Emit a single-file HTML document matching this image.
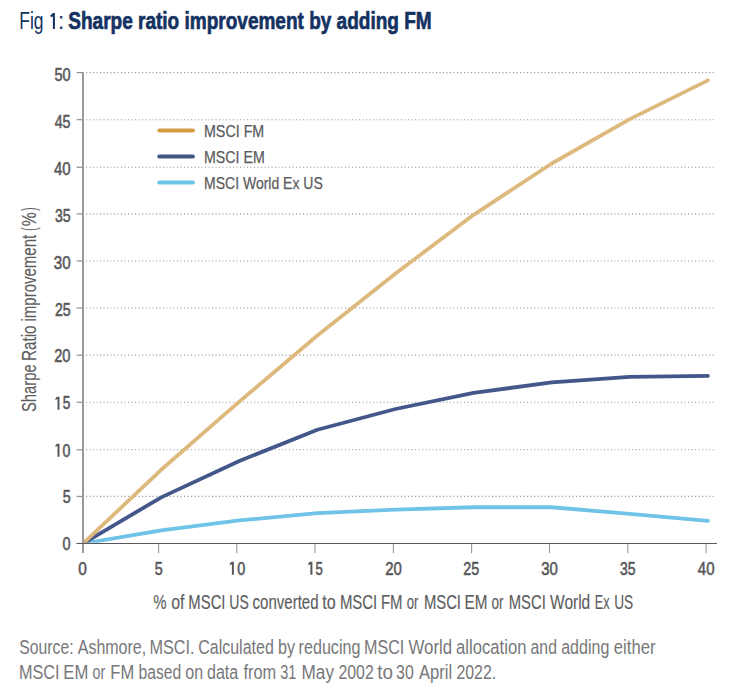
<!DOCTYPE html>
<html><head><meta charset="utf-8"><style>
html,body{margin:0;padding:0;background:#fff;overflow:hidden;}
svg{display:block;}
text{font-family:"Liberation Sans",sans-serif;}
</style></head><body>
<svg width="754" height="694" viewBox="0 0 754 694">
<defs><clipPath id="pc"><rect x="84.0" y="0" width="700" height="542.8"/></clipPath></defs>
<line class="gl" x1="86.0" y1="496.41" x2="716.0" y2="496.41" stroke="#9a9a9a" stroke-width="1.1" stroke-dasharray="1.1 2.4"/>
<line class="gl" x1="86.0" y1="449.82" x2="716.0" y2="449.82" stroke="#9a9a9a" stroke-width="1.1" stroke-dasharray="1.1 2.4"/>
<line class="gl" x1="86.0" y1="402.23" x2="716.0" y2="402.23" stroke="#9a9a9a" stroke-width="1.1" stroke-dasharray="1.1 2.4"/>
<line class="gl" x1="86.0" y1="355.14" x2="716.0" y2="355.14" stroke="#9a9a9a" stroke-width="1.1" stroke-dasharray="1.1 2.4"/>
<line class="gl" x1="86.0" y1="308.05" x2="716.0" y2="308.05" stroke="#9a9a9a" stroke-width="1.1" stroke-dasharray="1.1 2.4"/>
<line class="gl" x1="86.0" y1="260.96" x2="716.0" y2="260.96" stroke="#9a9a9a" stroke-width="1.1" stroke-dasharray="1.1 2.4"/>
<line class="gl" x1="86.0" y1="213.87" x2="716.0" y2="213.87" stroke="#9a9a9a" stroke-width="1.1" stroke-dasharray="1.1 2.4"/>
<line class="gl" x1="86.0" y1="167.28" x2="716.0" y2="167.28" stroke="#9a9a9a" stroke-width="1.1" stroke-dasharray="1.1 2.4"/>
<line class="gl" x1="86.0" y1="119.69" x2="716.0" y2="119.69" stroke="#9a9a9a" stroke-width="1.1" stroke-dasharray="1.1 2.4"/>
<line class="gl" x1="86.0" y1="72.60" x2="716.0" y2="72.60" stroke="#9a9a9a" stroke-width="1.1" stroke-dasharray="1.1 2.4"/>
<line x1="76.7" y1="543.50" x2="83" y2="543.50" stroke="#8f8f8f" stroke-width="1.2"/>
<line x1="76.7" y1="496.41" x2="83" y2="496.41" stroke="#8f8f8f" stroke-width="1.2"/>
<line x1="76.7" y1="449.82" x2="83" y2="449.82" stroke="#8f8f8f" stroke-width="1.2"/>
<line x1="76.7" y1="402.23" x2="83" y2="402.23" stroke="#8f8f8f" stroke-width="1.2"/>
<line x1="76.7" y1="355.14" x2="83" y2="355.14" stroke="#8f8f8f" stroke-width="1.2"/>
<line x1="76.7" y1="308.05" x2="83" y2="308.05" stroke="#8f8f8f" stroke-width="1.2"/>
<line x1="76.7" y1="260.96" x2="83" y2="260.96" stroke="#8f8f8f" stroke-width="1.2"/>
<line x1="76.7" y1="213.87" x2="83" y2="213.87" stroke="#8f8f8f" stroke-width="1.2"/>
<line x1="76.7" y1="167.28" x2="83" y2="167.28" stroke="#8f8f8f" stroke-width="1.2"/>
<line x1="76.7" y1="119.69" x2="83" y2="119.69" stroke="#8f8f8f" stroke-width="1.2"/>
<line x1="76.7" y1="72.60" x2="83" y2="72.60" stroke="#8f8f8f" stroke-width="1.2"/>
<line x1="158.6" y1="543.5" x2="158.6" y2="553.2" stroke="#9a9a9a" stroke-width="1.1"/>
<line x1="236.7" y1="543.5" x2="236.7" y2="553.2" stroke="#9a9a9a" stroke-width="1.1"/>
<line x1="315.0" y1="543.5" x2="315.0" y2="553.2" stroke="#9a9a9a" stroke-width="1.1"/>
<line x1="393.4" y1="543.5" x2="393.4" y2="553.2" stroke="#9a9a9a" stroke-width="1.1"/>
<line x1="471.6" y1="543.5" x2="471.6" y2="553.2" stroke="#9a9a9a" stroke-width="1.1"/>
<line x1="549.5" y1="543.5" x2="549.5" y2="553.2" stroke="#9a9a9a" stroke-width="1.1"/>
<line x1="627.8" y1="543.5" x2="627.8" y2="553.2" stroke="#9a9a9a" stroke-width="1.1"/>
<line x1="706.1" y1="543.5" x2="706.1" y2="553.2" stroke="#9a9a9a" stroke-width="1.1"/>
<line x1="83.0" y1="72.0" x2="83.0" y2="553.0" stroke="#8e8e8e" stroke-width="1.8"/>
<g clip-path="url(#pc)" fill="none" stroke-linejoin="round" stroke-linecap="round">
<polyline points="83.10,543.50 161.20,530.31 239.30,520.43 317.40,513.17 395.50,509.60 473.60,507.24 551.70,507.24 629.80,513.83 707.90,520.90" stroke="#6ec3e6" stroke-width="3.8"/>
<polyline points="83.10,543.50 161.20,497.35 239.30,461.00 317.40,429.73 395.50,409.01 473.60,392.81 551.70,382.45 629.80,376.80 707.90,375.86" stroke="#44578a" stroke-width="3.8"/>
<polyline points="83.10,543.50 161.20,469.76 239.30,401.66 317.40,335.55 395.50,273.58 473.60,214.81 551.70,163.48 629.80,119.12 707.90,80.42" stroke="#deb97d" stroke-width="3.8"/>
</g>
<line x1="76.5" y1="543.5" x2="717.0" y2="543.5" stroke="#59595b" stroke-width="1.2"/>
<line x1="159.2" y1="130.5" x2="193.0" y2="130.5" stroke="#d39d48" stroke-width="3.8" stroke-linecap="round"/>
<line x1="159.2" y1="156.5" x2="193.0" y2="156.5" stroke="#435683" stroke-width="3.8" stroke-linecap="round"/>
<line x1="159.2" y1="182.5" x2="193.0" y2="182.5" stroke="#6cc4e8" stroke-width="3.8" stroke-linecap="round"/>
<path d="M52.9 13.0 H54.9 V28.95 H52.9 Z M52.9 13.0 L54.9 13.0 L54.9 14.9 L51.3 17.3 L50.1 15.8 Z" fill="#143261"/>
<path d="M233.90 561.80 V574.80 H231.90 V564.20 L229.80 565.20 V563.60 L231.40 561.80 Z" fill="#58585b"/>
<path d="M312.40 561.80 V574.80 H310.40 V564.20 L308.30 565.20 V563.60 L309.90 561.80 Z" fill="#58585b"/>
<path d="M59.50 443.70 V456.70 H57.50 V446.10 L55.40 447.10 V445.50 L57.00 443.70 Z" fill="#58585b"/>
<path d="M59.50 396.70 V409.70 H57.50 V399.10 L55.40 400.10 V398.50 L57.00 396.70 Z" fill="#58585b"/>
<text id="tfigA" font-size="24.06" fill="#143261" textLength="24.27" lengthAdjust="spacingAndGlyphs" x="19.29" y="28.90">Fig</text>
<text id="tfigC" font-size="24.06" fill="#143261" textLength="6.20" lengthAdjust="spacingAndGlyphs" x="57.97" y="28.90">:</text>
<text id="tbold" font-size="24.20" fill="#143261" font-weight="bold" stroke="#143261" stroke-width="0.7" textLength="363.36" lengthAdjust="spacingAndGlyphs" x="68.30" y="28.90">Sharpe ratio improvement by adding FM</text>
<text id="lg1" font-size="16.96" fill="#5a5a5d" stroke="#5a5a5d" stroke-width="0.25" textLength="60.30" lengthAdjust="spacingAndGlyphs" x="203.96" y="137.00">MSCI FM</text>
<text id="lg2" font-size="16.96" fill="#5a5a5d" stroke="#5a5a5d" stroke-width="0.25" textLength="60.80" lengthAdjust="spacingAndGlyphs" x="203.99" y="163.00">MSCI EM</text>
<text id="lg3" font-size="16.96" fill="#5a5a5d" stroke="#5a5a5d" stroke-width="0.25" textLength="118.82" lengthAdjust="spacingAndGlyphs" x="204.01" y="189.00">MSCI World Ex US</text>
<text id="xt0" font-size="19.42" fill="#5d5d60" stroke="#5d5d60" stroke-width="0.15" textLength="13.28" lengthAdjust="spacingAndGlyphs" x="153.36" y="608.80">%</text>
<text id="xt1" font-size="19.42" fill="#5d5d60" stroke="#5d5d60" stroke-width="0.15" textLength="13.21" lengthAdjust="spacingAndGlyphs" x="171.31" y="608.80">of</text>
<text id="xt2" font-size="19.42" fill="#5d5d60" stroke="#5d5d60" stroke-width="0.15" textLength="37.12" lengthAdjust="spacingAndGlyphs" x="188.36" y="608.80">MSCI</text>
<text id="xt3" font-size="19.42" fill="#5d5d60" stroke="#5d5d60" stroke-width="0.15" textLength="19.51" lengthAdjust="spacingAndGlyphs" x="229.28" y="608.80">US</text>
<text id="xt4" font-size="19.42" fill="#5d5d60" stroke="#5d5d60" stroke-width="0.15" textLength="66.06" lengthAdjust="spacingAndGlyphs" x="252.54" y="608.80">converted</text>
<text id="xt5" font-size="19.42" fill="#5d5d60" stroke="#5d5d60" stroke-width="0.15" textLength="13.39" lengthAdjust="spacingAndGlyphs" x="322.37" y="608.80">to</text>
<text id="xt6" font-size="19.42" fill="#5d5d60" stroke="#5d5d60" stroke-width="0.15" textLength="37.40" lengthAdjust="spacingAndGlyphs" x="339.89" y="608.80">MSCI</text>
<text id="xt7" font-size="19.42" fill="#5d5d60" stroke="#5d5d60" stroke-width="0.15" textLength="21.58" lengthAdjust="spacingAndGlyphs" x="380.93" y="608.80">FM</text>
<text id="xt8" font-size="19.42" fill="#5d5d60" stroke="#5d5d60" stroke-width="0.15" textLength="11.61" lengthAdjust="spacingAndGlyphs" x="406.66" y="608.80">or</text>
<text id="xt9" font-size="19.42" fill="#5d5d60" stroke="#5d5d60" stroke-width="0.15" textLength="37.05" lengthAdjust="spacingAndGlyphs" x="423.92" y="608.80">MSCI</text>
<text id="xt10" font-size="19.42" fill="#5d5d60" stroke="#5d5d60" stroke-width="0.15" textLength="22.89" lengthAdjust="spacingAndGlyphs" x="464.49" y="608.80">EM</text>
<text id="xt11" font-size="19.42" fill="#5d5d60" stroke="#5d5d60" stroke-width="0.15" textLength="12.03" lengthAdjust="spacingAndGlyphs" x="491.41" y="608.80">or</text>
<text id="xt12" font-size="19.42" fill="#5d5d60" stroke="#5d5d60" stroke-width="0.15" textLength="37.02" lengthAdjust="spacingAndGlyphs" x="508.78" y="608.80">MSCI</text>
<text id="xt13" font-size="19.42" fill="#5d5d60" stroke="#5d5d60" stroke-width="0.15" textLength="40.09" lengthAdjust="spacingAndGlyphs" x="550.11" y="608.80">World</text>
<text id="xt14" font-size="19.42" fill="#5d5d60" stroke="#5d5d60" stroke-width="0.15" textLength="14.73" lengthAdjust="spacingAndGlyphs" x="594.75" y="608.80">Ex</text>
<text id="xt15" font-size="19.42" fill="#5d5d60" stroke="#5d5d60" stroke-width="0.15" textLength="19.00" lengthAdjust="spacingAndGlyphs" x="614.14" y="608.80">US</text>
<text id="f1_0" font-size="20.72" fill="#77777a" textLength="54.19" lengthAdjust="spacingAndGlyphs" x="19.34" y="654.00">Source:</text>
<text id="f1_1" font-size="20.72" fill="#77777a" textLength="68.40" lengthAdjust="spacingAndGlyphs" x="77.74" y="654.00">Ashmore,</text>
<text id="f1_2" font-size="20.72" fill="#77777a" textLength="45.06" lengthAdjust="spacingAndGlyphs" x="149.51" y="654.00">MSCI.</text>
<text id="f1_3" font-size="20.72" fill="#77777a" textLength="75.52" lengthAdjust="spacingAndGlyphs" x="198.26" y="654.00">Calculated</text>
<text id="f1_4" font-size="20.72" fill="#77777a" textLength="17.11" lengthAdjust="spacingAndGlyphs" x="277.91" y="654.00">by</text>
<text id="f1_5" font-size="20.72" fill="#77777a" textLength="61.79" lengthAdjust="spacingAndGlyphs" x="298.62" y="654.00">reducing</text>
<text id="f1_6" font-size="20.72" fill="#77777a" textLength="40.21" lengthAdjust="spacingAndGlyphs" x="364.04" y="654.00">MSCI</text>
<text id="f1_7" font-size="20.72" fill="#77777a" textLength="43.54" lengthAdjust="spacingAndGlyphs" x="408.59" y="654.00">World</text>
<text id="f1_8" font-size="20.72" fill="#77777a" textLength="70.38" lengthAdjust="spacingAndGlyphs" x="456.06" y="654.00">allocation</text>
<text id="f1_9" font-size="20.72" fill="#77777a" textLength="26.28" lengthAdjust="spacingAndGlyphs" x="530.62" y="654.00">and</text>
<text id="f1_10" font-size="20.72" fill="#77777a" textLength="48.09" lengthAdjust="spacingAndGlyphs" x="561.21" y="654.00">adding</text>
<text id="f1_11" font-size="20.72" fill="#77777a" textLength="41.73" lengthAdjust="spacingAndGlyphs" x="613.78" y="654.00">either</text>
<text id="f2_0" font-size="20.72" fill="#77777a" textLength="40.64" lengthAdjust="spacingAndGlyphs" x="18.97" y="678.80">MSCI</text>
<text id="f2_1" font-size="20.72" fill="#77777a" textLength="25.01" lengthAdjust="spacingAndGlyphs" x="63.33" y="678.80">EM</text>
<text id="f2_2" font-size="20.72" fill="#77777a" textLength="12.67" lengthAdjust="spacingAndGlyphs" x="92.51" y="678.80">or</text>
<text id="f2_3" font-size="20.72" fill="#77777a" textLength="23.85" lengthAdjust="spacingAndGlyphs" x="110.34" y="678.80">FM</text>
<text id="f2_4" font-size="20.72" fill="#77777a" textLength="42.73" lengthAdjust="spacingAndGlyphs" x="138.58" y="678.80">based</text>
<text id="f2_5" font-size="20.72" fill="#77777a" textLength="17.82" lengthAdjust="spacingAndGlyphs" x="185.28" y="678.80">on</text>
<text id="f2_6" font-size="20.72" fill="#77777a" textLength="31.18" lengthAdjust="spacingAndGlyphs" x="207.00" y="678.80">data</text>
<text id="f2_7" font-size="20.72" fill="#77777a" textLength="32.79" lengthAdjust="spacingAndGlyphs" x="243.43" y="678.80">from</text>
<text id="f2_8" font-size="20.28" fill="#77777a" textLength="16.13" lengthAdjust="spacingAndGlyphs" x="280.15" y="678.80">31</text>
<text id="f2_9" font-size="20.72" fill="#77777a" textLength="32.44" lengthAdjust="spacingAndGlyphs" x="301.54" y="678.80">May</text>
<text id="f2_10" font-size="20.28" fill="#77777a" textLength="35.32" lengthAdjust="spacingAndGlyphs" x="338.42" y="678.80">2002</text>
<text id="f2_11" font-size="20.72" fill="#77777a" textLength="15.73" lengthAdjust="spacingAndGlyphs" x="377.25" y="678.80">to</text>
<text id="f2_12" font-size="20.28" fill="#77777a" textLength="17.68" lengthAdjust="spacingAndGlyphs" x="396.05" y="678.80">30</text>
<text id="f2_13" font-size="20.72" fill="#77777a" textLength="33.17" lengthAdjust="spacingAndGlyphs" x="418.98" y="678.80">April</text>
<text id="f2_14" font-size="20.72" fill="#77777a" textLength="39.85" lengthAdjust="spacingAndGlyphs" x="456.41" y="678.80">2022.</text>
<text id="yt0" font-size="20.29" fill="#5d5d60" stroke="#5d5d60" stroke-width="0.15" textLength="47.70" lengthAdjust="spacingAndGlyphs" x="-412.09" y="0" transform="translate(35.80,0) rotate(-90)">Sharpe</text>
<text id="yt1" font-size="20.29" fill="#5d5d60" stroke="#5d5d60" stroke-width="0.15" textLength="35.68" lengthAdjust="spacingAndGlyphs" x="-361.07" y="0" transform="translate(35.80,0) rotate(-90)">Ratio</text>
<text id="yt2" font-size="20.29" fill="#5d5d60" stroke="#5d5d60" stroke-width="0.15" textLength="86.67" lengthAdjust="spacingAndGlyphs" x="-321.53" y="0" transform="translate(35.80,0) rotate(-90)">improvement</text>
<text id="yt3" font-size="20.29" fill="#5d5d60" stroke="#5d5d60" stroke-width="0.15" textLength="3.17" lengthAdjust="spacingAndGlyphs" x="-230.79" y="0" transform="translate(35.80,0) rotate(-90)">(</text>
<text id="yt4" font-size="20.29" fill="#5d5d60" stroke="#5d5d60" stroke-width="0.15" textLength="13.91" lengthAdjust="spacingAndGlyphs" x="-226.29" y="0" transform="translate(35.80,0) rotate(-90)">%</text>
<text id="yt5" font-size="20.29" fill="#5d5d60" stroke="#5d5d60" stroke-width="0.15" textLength="3.32" lengthAdjust="spacingAndGlyphs" x="-210.76" y="0" transform="translate(35.80,0) rotate(-90)">)</text>
<text id="xl0" font-size="19.01" fill="#58585b" stroke="#58585b" stroke-width="0.6" textLength="8.59" lengthAdjust="spacingAndGlyphs" x="78.19" y="574.90">0</text>
<text id="xl5" font-size="19.01" fill="#58585b" stroke="#58585b" stroke-width="0.6" textLength="7.93" lengthAdjust="spacingAndGlyphs" x="154.63" y="574.90">5</text>
<text id="xl10" font-size="19.01" fill="#58585b" stroke="#58585b" stroke-width="0.6" textLength="8.05" lengthAdjust="spacingAndGlyphs" x="237.15" y="574.90">0</text>
<text id="xl15" font-size="19.01" fill="#58585b" stroke="#58585b" stroke-width="0.6" textLength="7.27" lengthAdjust="spacingAndGlyphs" x="315.46" y="574.90">5</text>
<text id="xl20" font-size="19.01" fill="#58585b" stroke="#58585b" stroke-width="0.6" textLength="16.66" lengthAdjust="spacingAndGlyphs" x="385.17" y="574.90">20</text>
<text id="xl25" font-size="19.01" fill="#58585b" stroke="#58585b" stroke-width="0.6" textLength="15.85" lengthAdjust="spacingAndGlyphs" x="463.33" y="574.90">25</text>
<text id="xl30" font-size="19.01" fill="#58585b" stroke="#58585b" stroke-width="0.6" textLength="16.62" lengthAdjust="spacingAndGlyphs" x="541.27" y="574.90">30</text>
<text id="xl35" font-size="19.01" fill="#58585b" stroke="#58585b" stroke-width="0.6" textLength="15.49" lengthAdjust="spacingAndGlyphs" x="620.05" y="574.90">35</text>
<text id="xl40" font-size="19.01" fill="#58585b" stroke="#58585b" stroke-width="0.6" textLength="16.68" lengthAdjust="spacingAndGlyphs" x="697.82" y="574.90">40</text>
<text id="yl0" font-size="19.01" fill="#58585b" stroke="#58585b" stroke-width="0.6" textLength="8.07" lengthAdjust="spacingAndGlyphs" x="62.52" y="549.90">0</text>
<text id="yl5" font-size="19.01" fill="#58585b" stroke="#58585b" stroke-width="0.6" textLength="7.93" lengthAdjust="spacingAndGlyphs" x="62.63" y="503.02">5</text>
<text id="yl10" font-size="19.01" fill="#58585b" stroke="#58585b" stroke-width="0.6" textLength="7.87" lengthAdjust="spacingAndGlyphs" x="62.59" y="456.64">0</text>
<text id="yl15" font-size="19.01" fill="#58585b" stroke="#58585b" stroke-width="0.6" textLength="7.59" lengthAdjust="spacingAndGlyphs" x="62.86" y="409.26">5</text>
<text id="yl20" font-size="19.01" fill="#58585b" stroke="#58585b" stroke-width="0.6" textLength="16.32" lengthAdjust="spacingAndGlyphs" x="54.13" y="362.38">20</text>
<text id="yl25" font-size="19.01" fill="#58585b" stroke="#58585b" stroke-width="0.6" textLength="15.65" lengthAdjust="spacingAndGlyphs" x="54.99" y="315.50">25</text>
<text id="yl30" font-size="19.01" fill="#58585b" stroke="#58585b" stroke-width="0.6" textLength="16.82" lengthAdjust="spacingAndGlyphs" x="53.81" y="268.62">30</text>
<text id="yl35" font-size="19.01" fill="#58585b" stroke="#58585b" stroke-width="0.6" textLength="15.66" lengthAdjust="spacingAndGlyphs" x="54.99" y="221.74">35</text>
<text id="yl40" font-size="19.01" fill="#58585b" stroke="#58585b" stroke-width="0.6" textLength="16.65" lengthAdjust="spacingAndGlyphs" x="53.95" y="175.36">40</text>
<text id="yl45" font-size="19.01" fill="#58585b" stroke="#58585b" stroke-width="0.6" textLength="15.81" lengthAdjust="spacingAndGlyphs" x="54.72" y="127.98">45</text>
<text id="yl50" font-size="19.01" fill="#58585b" stroke="#58585b" stroke-width="0.6" textLength="16.19" lengthAdjust="spacingAndGlyphs" x="54.49" y="81.10">50</text>
</svg></body></html>
